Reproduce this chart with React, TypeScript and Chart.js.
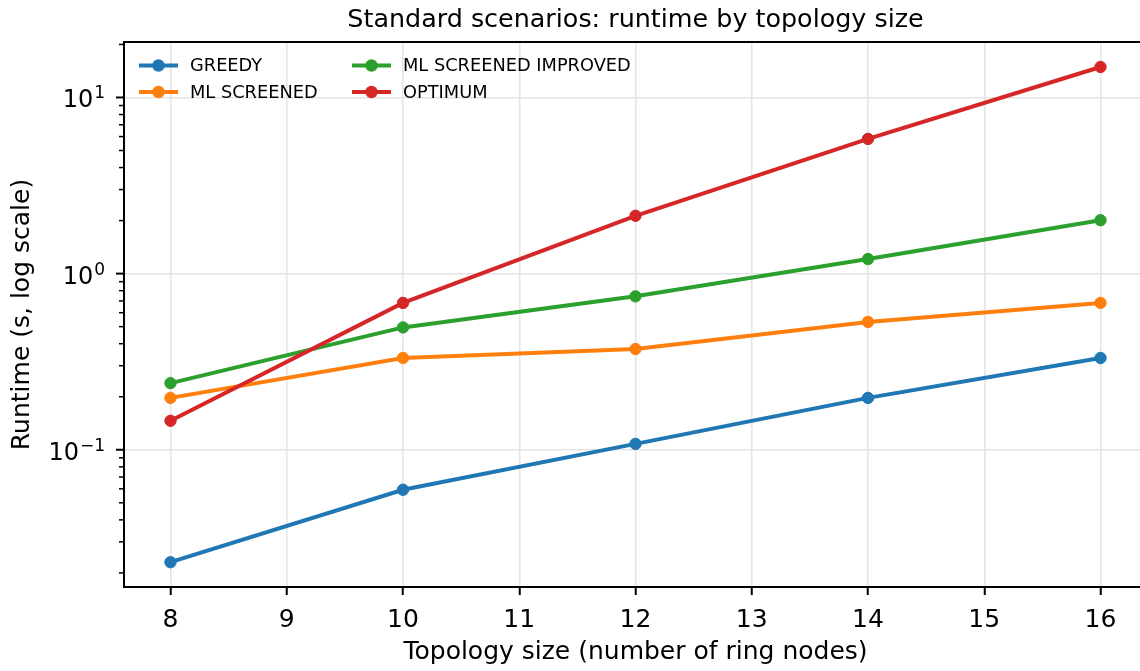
import React, { useEffect, useRef } from 'react';
import { Chart, registerables } from 'chart.js';

Chart.register(...registerables);

// ---- Data ----
const topologySizes = [8, 10, 12, 14, 16];
const greedy = [0.023, 0.0593, 0.108, 0.197, 0.332];
const mlScreened = [0.197, 0.332, 0.373, 0.532, 0.682];
const mlScreenedImproved = [0.239, 0.495, 0.743, 1.21, 2.01];
const optimum = [0.146, 0.682, 2.13, 5.82, 14.9];
const seriesNames = ['GREEDY', 'ML SCREENED', 'ML SCREENED IMPROVED', 'OPTIMUM'];
const seriesColors = ['#1f77b4', '#ff7f0e', '#2ca02c', '#d62728'];
const yMajorExponents = [-1, 0, 1];
const yMinorExponents = [-2, -1, 0, 1];
const chartTitle = 'Standard scenarios: runtime by topology size';
const xTitle = 'Topology size (number of ring nodes)';
const yTitle = 'Runtime (s, log scale)';

const X_MIN = 7.6;
const X_MAX = 16.4;
const Y_MIN = 0.01663;
const Y_MAX = 20.65;

const CANVAS_W = 1180;
const CANVAS_H = 671;

const FONT = '"DejaVu Sans", sans-serif';
const GRID = '#e4e4e4';

const isPow10 = (v: number) => {
  const l = Math.log10(v);
  return Math.abs(l - Math.round(l)) < 1e-6;
};

const decorPlugin = {
  id: 'mplDecor',
  afterDraw(chart: any) {
    const { ctx, chartArea, scales } = chart;
    const { left, right, top } = chartArea;
    const y = scales.y;
    ctx.save();
    // top spine (the right spine lies outside the visible 1140px window)
    ctx.strokeStyle = '#000';
    ctx.lineWidth = 2;
    ctx.beginPath();
    ctx.moveTo(left - 1, top);
    ctx.lineTo(right + 1, top);
    ctx.stroke();

    // y ticks (major + minor)
    yMinorExponents.forEach((e) => {
      for (let m = 1; m <= 9; m++) {
        const v = m * Math.pow(10, e);
        if (v < Y_MIN || v > Y_MAX) continue;
        const py = y.getPixelForValue(v);
        const major = m === 1;
        ctx.lineWidth = major ? 2 : 1.5;
        ctx.beginPath();
        ctx.moveTo(left - (major ? 8 : 5), py);
        ctx.lineTo(left, py);
        ctx.stroke();
      }
    });

    // y tick labels 10^n
    ctx.fillStyle = '#000';
    ctx.textBaseline = 'alphabetic';
    ctx.textAlign = 'left';
    yMajorExponents.forEach((e) => {
      const v = Math.pow(10, e);
      const py = y.getPixelForValue(v);
      const expStr = e < 0 ? '\u2212' + Math.abs(e) : String(e);
      ctx.font = `17px ${FONT}`;
      const expW = ctx.measureText(expStr).width;
      ctx.font = `24px ${FONT}`;
      const mainW = ctx.measureText('10').width;
      const rightEdge = 105;
      const expX = rightEdge - expW;
      const mainX = expX - 1 - mainW;
      ctx.fillText('10', mainX, py + 10);
      ctx.font = `17px ${FONT}`;
      ctx.fillText(expStr, expX, py + 1);
    });

    // title
    ctx.font = `25.4px ${FONT}`;
    ctx.textAlign = 'center';
    ctx.fillText(chartTitle, (left + right) / 2, 27);

    // legend (two columns inside plot, upper-left)
    const legendItems = [
      { col: 0, row: 0, idx: 0 },
      { col: 0, row: 1, idx: 1 },
      { col: 1, row: 0, idx: 2 },
      { col: 1, row: 1, idx: 3 },
    ];
    const colX = [139, 352];
    const rowY = [65.5, 92];
    ctx.font = `17.8px ${FONT}`;
    ctx.textAlign = 'left';
    ctx.textBaseline = 'middle';
    legendItems.forEach(({ col, row, idx }) => {
      const x0 = colX[col];
      const yy = rowY[row];
      ctx.strokeStyle = seriesColors[idx];
      ctx.lineWidth = 4;
      ctx.beginPath();
      ctx.moveTo(x0, yy);
      ctx.lineTo(x0 + 39, yy);
      ctx.stroke();
      ctx.fillStyle = seriesColors[idx];
      ctx.beginPath();
      ctx.arc(x0 + 19.5, yy, 6.2, 0, Math.PI * 2);
      ctx.fill();
      ctx.fillStyle = '#000';
      ctx.fillText(seriesNames[idx], x0 + 51, yy + 1);
    });
    ctx.restore();
  },
};

const seriesValues = [greedy, mlScreened, mlScreenedImproved, optimum];

export default function App() {
  const canvasRef = useRef<HTMLCanvasElement | null>(null);

  useEffect(() => {
    if (!canvasRef.current) return;
    const datasets = seriesValues.map((vals, i) => ({
      label: seriesNames[i],
      data: topologySizes.map((x, j) => ({ x, y: vals[j] })),
      borderColor: seriesColors[i],
      backgroundColor: seriesColors[i],
      pointBackgroundColor: seriesColors[i],
      pointBorderColor: seriesColors[i],
      borderWidth: 4,
      pointRadius: 5.7,
      pointBorderWidth: 1,
      tension: 0,
      order: seriesValues.length - i,
    }));
    const chart = new Chart(canvasRef.current, {
      type: 'line',
      data: { datasets },
      options: {
        responsive: false,
        maintainAspectRatio: false,
        animation: false,
        devicePixelRatio: 1,
        layout: { padding: { top: 42, right: CANVAS_W - 1147, left: 0, bottom: 0 } },
        plugins: {
          legend: { display: false },
          title: { display: false },
          tooltip: { enabled: false },
        },
        scales: {
          x: {
            type: 'linear',
            min: X_MIN,
            max: X_MAX,
            afterFit: (s: any) => {
              s.height = 84;
            },
            ticks: {
              stepSize: 1,
              includeBounds: false,
              autoSkip: false,
              maxRotation: 0,
              color: '#000',
              padding: 10,
              font: { family: FONT, size: 25 },
            },
            grid: {
              color: GRID,
              lineWidth: 1.5,
              drawTicks: true,
              tickLength: 8,
              tickColor: '#000',
              tickWidth: 2,
            },
            border: { display: true, color: '#000', width: 2 },
            title: {
              display: true,
              text: xTitle,
              color: '#000',
              font: { family: FONT, size: 25 },
              padding: { top: 0, bottom: 4 },
            },
          },
          y: {
            type: 'logarithmic',
            min: Y_MIN,
            max: Y_MAX,
            afterFit: (s: any) => {
              s.width = 124;
            },
            ticks: { display: false },
            grid: {
              color: (c: any) => (c.tick && isPow10(c.tick.value) ? GRID : 'rgba(0,0,0,0)'),
              lineWidth: 1.5,
              drawTicks: false,
            },
            border: { display: true, color: '#000', width: 2 },
            title: {
              display: true,
              text: yTitle,
              color: '#000',
              font: { family: FONT, size: 25 },
              padding: { top: 7, bottom: 0 },
            },
          },
        },
      } as any,
      plugins: [decorPlugin],
    });
    return () => chart.destroy();
  }, []);

  return (
    <div
      style={{
        position: 'fixed',
        left: 0,
        top: 0,
        width: 1140,
        height: 671,
        overflow: 'hidden',
        background: '#fff',
      }}
    >
      <div style={{ width: CANVAS_W, height: CANVAS_H }}>
        <canvas
          ref={canvasRef}
          width={CANVAS_W}
          height={CANVAS_H}
          style={{ display: 'block', width: CANVAS_W, height: CANVAS_H, maxWidth: 'none' }}
        />
      </div>
    </div>
  );
}
